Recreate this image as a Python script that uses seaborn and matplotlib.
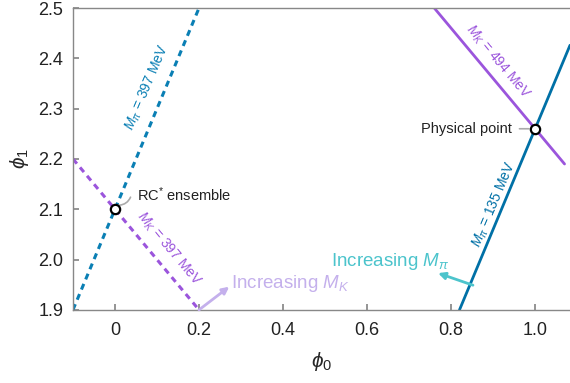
import numpy as np
import matplotlib.pyplot as plt
import seaborn as sns
import pandas as pd

# line endpoints (phi0, phi1)
mpi397_x = [-0.1, 0.2]
mpi397_y = [1.9, 2.5]
mk397_x = [-0.1, 0.2]
mk397_y = [2.2, 1.9]
mpi135_x = [0.82, 1.083]
mpi135_y = [1.9, 2.426]
mk494_x = [0.76, 1.07]
mk494_y = [2.5, 2.19]
points_x = [0.0, 1.0]
points_y = [2.1, 2.26]

sns.set_theme(style='ticks')
plt.rcParams['font.family'] = ['Liberation Sans', 'DejaVu Sans']
plt.rcParams['mathtext.fontset'] = 'custom'
plt.rcParams['mathtext.it'] = 'Liberation Sans:italic'
plt.rcParams['mathtext.rm'] = 'Liberation Sans'

teal = '#0a7fb4'
blue = '#0070a6'
purple = '#9b55dc'
light_purple = '#c4b0ec'
cyan = '#4cc4cc'

fig = plt.figure(figsize=(5.7, 3.83), dpi=100)
ax = fig.add_axes([0.128, 0.191, 0.872, 0.788])

df = pd.DataFrame({'x': mpi397_x, 'y': mpi397_y})
sns.lineplot(data=df, x='x', y='y', ax=ax, color=teal, lw=2.2, linestyle=(0, (2, 1.6)))
df = pd.DataFrame({'x': mk397_x, 'y': mk397_y})
sns.lineplot(data=df, x='x', y='y', ax=ax, color=purple, lw=2.2, linestyle=(0, (2, 1.6)))
df = pd.DataFrame({'x': mpi135_x, 'y': mpi135_y})
sns.lineplot(data=df, x='x', y='y', ax=ax, color=blue, lw=2.0)
df = pd.DataFrame({'x': mk494_x, 'y': mk494_y})
sns.lineplot(data=df, x='x', y='y', ax=ax, color=purple, lw=2.0)

sns.scatterplot(x=points_x, y=points_y, ax=ax, s=45, facecolor='white',
                edgecolor='black', linewidth=1.6, zorder=5)

ax.set_xlim(-0.1, 1.083)
ax.set_ylim(1.9, 2.5)
ax.set_xticks([0, 0.2, 0.4, 0.6, 0.8, 1.0])
ax.set_xticklabels(['0', '0.2', '0.4', '0.6', '0.8', '1.0'])
ax.set_yticks([1.9, 2.0, 2.1, 2.2, 2.3, 2.4, 2.5])
ax.set_yticklabels(['1.9', '2.0', '2.1', '2.2', '2.3', '2.4', '2.5'])
ax.tick_params(direction='in', length=4, color='#888888', labelsize=13, pad=7,
               labelcolor='#222222')
ax.tick_params(axis='x', pad=9)
for s in ['left', 'bottom', 'top']:
    ax.spines[s].set_color('#888888')
    ax.spines[s].set_linewidth(1.0)
ax.spines['right'].set_visible(False)
ax.set_xlabel(r'$\phi_0$', fontsize=15, labelpad=8)
ax.set_ylabel(r'$\phi_1$', fontsize=15, labelpad=5)

# line labels
ax.text(0.078, 2.341, r'$M_\pi$ = 397 MeV', color=teal, fontsize=10, rotation=67,
        ha='center', va='center', rotation_mode='anchor')
ax.text(0.128, 2.022, r'$M_K$ = 397 MeV', color=purple, fontsize=10, rotation=-50,
        ha='center', va='center', rotation_mode='anchor')
ax.text(0.912, 2.393, r'$M_K$ = 494 MeV', color=purple, fontsize=10, rotation=-50,
        ha='center', va='center', rotation_mode='anchor')
ax.text(0.903, 2.11, r'$M_\pi$ = 135 MeV', color=blue, fontsize=10, rotation=67,
        ha='center', va='center', rotation_mode='anchor')

# point annotations
ax.text(0.052, 2.128, 'RC$^{*}$ ensemble', fontsize=10.5, color='#222222', va='center')
ax.annotate('', xy=(0.01, 2.108), xytext=(0.037, 2.124),
            arrowprops=dict(arrowstyle='-', color='#aaaaaa', lw=1.2,
                            connectionstyle='arc3,rad=-0.3', shrinkA=0, shrinkB=0))
ax.annotate('Physical point', xy=(0.985, 2.26), xytext=(0.945, 2.26),
            fontsize=10.5, color='#222222', va='center', ha='right',
            arrowprops=dict(arrowstyle='-', color='#aaaaaa', lw=1.2,
                            shrinkA=3, shrinkB=0))

# increasing arrows
ax.annotate('', xy=(0.272, 1.946), xytext=(0.2, 1.9),
            arrowprops=dict(arrowstyle='-|>', color=light_purple, lw=2.0,
                            mutation_scale=10, shrinkA=0, shrinkB=0))
ax.text(0.277, 1.953, r'Increasing $M_K$', color=light_purple, fontsize=13.5,
        va='center', ha='left')
ax.annotate('', xy=(0.769, 1.973), xytext=(0.852, 1.949),
            arrowprops=dict(arrowstyle='-|>', color=cyan, lw=2.0,
                            mutation_scale=10, shrinkA=0, shrinkB=0))
ax.text(0.795, 1.997, r'Increasing $M_\pi$', color=cyan, fontsize=13.5,
        va='center', ha='right')

fig.savefig('out.png', dpi=100)
